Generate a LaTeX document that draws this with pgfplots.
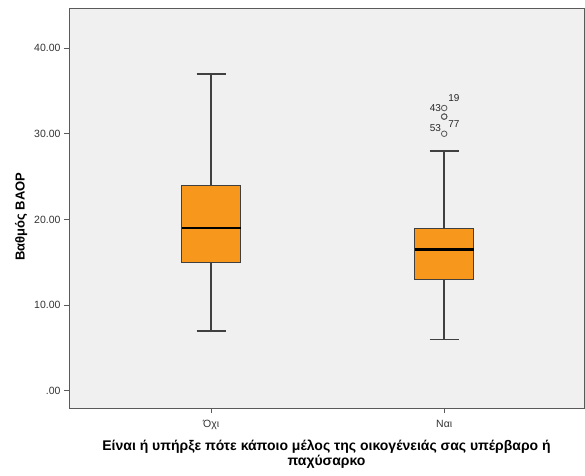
\documentclass[border=0pt]{standalone}
\usepackage{pgfplots}
\pgfplotsset{compat=1.18}
\usepgfplotslibrary{statistics}
\usepackage{fontspec}
\setmainfont{Liberation Sans}
\definecolor{boxorange}{RGB}{247,152,29}
\definecolor{bg}{RGB}{240,240,240}
\definecolor{frame}{RGB}{90,90,90}
\begin{document}
\begin{tikzpicture}
\path[use as bounding box] (-69pt,-67pt) rectangle (516pt,408pt);
\begin{axis}[
  at={(0pt,0pt)}, anchor=south west,
  scale only axis, width=515pt, height=400pt,
  xmin=-0.61, xmax=1.6, ymin=-2, ymax=44.67,
  axis background/.style={fill=bg},
  axis line style={frame, line width=0.8pt},
  xtick={0,1}, xticklabels={Όχι,Ναι},
  ytick={0,10,20,30,40}, yticklabels={.00,10.00,20.00,30.00,40.00},
  tick align=outside, tick style={frame, line width=0.8pt},
  major tick length=5pt,
  xtick pos=bottom, ytick pos=left,
  ticklabel style={font=\fontsize{10.5}{11}\selectfont, text=black!80},
  xticklabel style={yshift=-4pt},
  ylabel={\textbf{Βαθμός ΒΑΟΡ}},
  ylabel style={font=\fontsize{13}{14}\selectfont, yshift=0pt, xshift=-9pt},
  xlabel={\textbf{Είναι ή υπήρξε πότε κάποιο μέλος της οικογένειάς σας υπέρβαρο ή}\\\textbf{παχύσαρκο}},
  xlabel style={font=\fontsize{14}{15}\selectfont, align=center, yshift=-3pt},
  boxplot/draw direction=y,
  boxplot/box extend=0.253,
  boxplot/whisker extend=0.125,
  boxplot/every box/.style={fill=boxorange, draw=black!75, line width=0.9pt},
  boxplot/every whisker/.style={draw=black!75, line width=1.6pt},
  boxplot/every median/.style={draw=black, line width=2.6pt},
]
\addplot[draw=black!75, line width=1.6pt,
  boxplot prepared={draw position=0, lower whisker=7, lower quartile=15, median=19, upper quartile=24, upper whisker=37}] coordinates {};
\addplot[draw=black!75, line width=1.6pt,
  boxplot prepared={draw position=1, lower whisker=6, lower quartile=13, median=16.5, upper quartile=19, upper whisker=28},
  mark=o, mark size=2.8pt, mark options={draw=black!65, fill=none, line width=0.8pt}] table[row sep=\\, y index=0] {33\\32\\32\\30\\};
\begin{scope}[every node/.style={font=\fontsize{10}{11}\selectfont, inner sep=0pt, text=black!85}]
\node[anchor=west] at (axis cs:1,33) [xshift=4pt, yshift=10pt] {19};
\node[anchor=east] at (axis cs:1,33) [xshift=-3pt] {43};
\node[anchor=west] at (axis cs:1,32) [xshift=4pt, yshift=-7pt] {77};
\node[anchor=east] at (axis cs:1,30) [xshift=-3pt, yshift=6pt] {53};
\end{scope}
\end{axis}
\end{tikzpicture}
\end{document}
